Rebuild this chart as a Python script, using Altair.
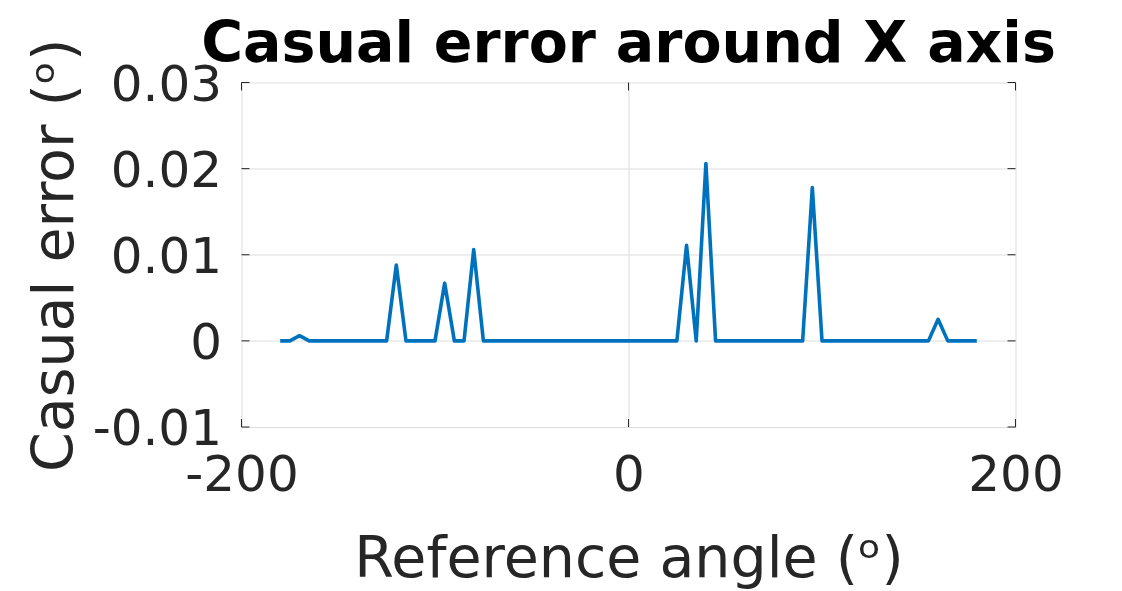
import altair as alt
import pandas as pd

# Reference angle (deg) and casual error (deg)
angles = [-180, -175, -170, -165, -160, -155, -150, -145, -140, -135, -130, -125,
          -120, -115, -110, -105, -100, -95, -90, -85, -80, -75, -70, -65,
          -60, -55, -50, -45, -40, -35, -30, -25, -20, -15, -10, -5,
          0, 5, 10, 15, 20, 25, 30, 35, 40, 45, 50, 55,
          60, 65, 70, 75, 80, 85, 90, 95, 100, 105, 110, 115,
          120, 125, 130, 135, 140, 145, 150, 155, 160, 165, 170, 175, 180]
errors = [0, 0, 0.0006, 0, 0, 0, 0, 0, 0, 0, 0, 0,
          0.0088, 0, 0, 0, 0, 0.0067, 0, 0, 0.0106, 0, 0, 0,
          0, 0, 0, 0, 0, 0, 0, 0, 0, 0, 0, 0,
          0, 0, 0, 0, 0, 0, 0.0111, 0, 0.0206, 0, 0, 0,
          0, 0, 0, 0, 0, 0, 0, 0.0178, 0, 0, 0, 0,
          0, 0, 0, 0, 0, 0, 0, 0, 0.0025, 0, 0, 0, 0]

x_ticks = [-200, 0, 200]
y_ticks = [-0.01, 0, 0.01, 0.02, 0.03]

W = 774
H = 344.5
FONT = "DejaVu Sans"
TXT = "#262626"

df = pd.DataFrame({"angle": angles, "error": errors})
xt = pd.DataFrame({"angle": x_ticks})
yt = pd.DataFrame({"error": y_ticks})

xscale = alt.Scale(domain=[-200, 200], nice=False, zero=False)
yscale = alt.Scale(domain=[-0.01, 0.03], nice=False, zero=False)

xaxis = alt.Axis(values=x_ticks, grid=True, ticks=False, domain=False,
                 gridOpacity={"condition": {"test": "abs(datum.value) >= 200", "value": 0}, "value": 1},
                 labelExpr="'' + datum.value", labelFont=FONT, labelFontSize=50,
                 labelColor=TXT, labelBaseline="alphabetic", labelPadding=63,
                 labelAlign="center", labelFlush=False, labelOverlap=False,
                 title="Reference angle (ᵒ)", titleFont=FONT, titleFontSize=57,
                 titleFontWeight="normal", titleColor=TXT, titleBaseline="alphabetic",
                 titleAlign="center", titleX=W / 2, titleY=149)
yaxis = alt.Axis(values=y_ticks, grid=True, ticks=False, domain=False,
                 gridOpacity={"condition": {"test": "datum.value <= -0.01 || datum.value >= 0.03", "value": 0}, "value": 1},
                 labelExpr="'' + datum.value", labelFont=FONT, labelFontSize=50,
                 labelColor=TXT, labelBaseline="alphabetic", labelOffset=17.5,
                 labelPadding=20, labelAlign="right", labelFlush=False, labelOverlap=False,
                 title="Casual error (ᵒ)", titleFont=FONT, titleFontSize=57,
                 titleFontWeight="normal", titleColor=TXT, titleBaseline="alphabetic",
                 titleAlign="center", titleAngle=270, titleX=-169.5, titleY=H / 2)

line = alt.Chart(df).mark_line(color="#0072BD", strokeWidth=3.6, strokeJoin="round",
                               strokeCap="butt").encode(
    x=alt.X("angle:Q", scale=xscale, axis=xaxis),
    y=alt.Y("error:Q", scale=yscale, axis=yaxis),
)

tick_style = dict(color=TXT, strokeWidth=1)
xt_bottom = alt.Chart(xt).mark_rule(**tick_style).encode(
    x=alt.X("angle:Q", scale=xscale), y=alt.value(H), y2=alt.value(H - 8))
xt_top = alt.Chart(xt).mark_rule(**tick_style).encode(
    x=alt.X("angle:Q", scale=xscale), y=alt.value(0), y2=alt.value(8))
yt_left = alt.Chart(yt).mark_rule(**tick_style).encode(
    y=alt.Y("error:Q", scale=yscale), x=alt.value(0), x2=alt.value(8))
yt_right = alt.Chart(yt).mark_rule(**tick_style).encode(
    y=alt.Y("error:Q", scale=yscale), x=alt.value(W), x2=alt.value(W - 8))

chart = alt.layer(line, xt_bottom, xt_top, yt_left, yt_right).properties(
    width=W, height=H,
    autosize=alt.AutoSizeParams(type="none"),
    padding={"left": 233.5, "top": 74.5, "right": 98.5, "bottom": 164},
    title=alt.TitleParams("Casual error around X axis", font=FONT, fontSize=57,
                          fontWeight="bold", color="#000000", anchor="middle",
                          baseline="alphabetic", offset=19.5, dy=100.5),
).configure_view(stroke=TXT, strokeWidth=1).configure_axis(
    gridColor="#dedede", gridWidth=1
).configure(background="white")

chart.save("out.html", embed_options={"renderer": "svg", "actions": False})
